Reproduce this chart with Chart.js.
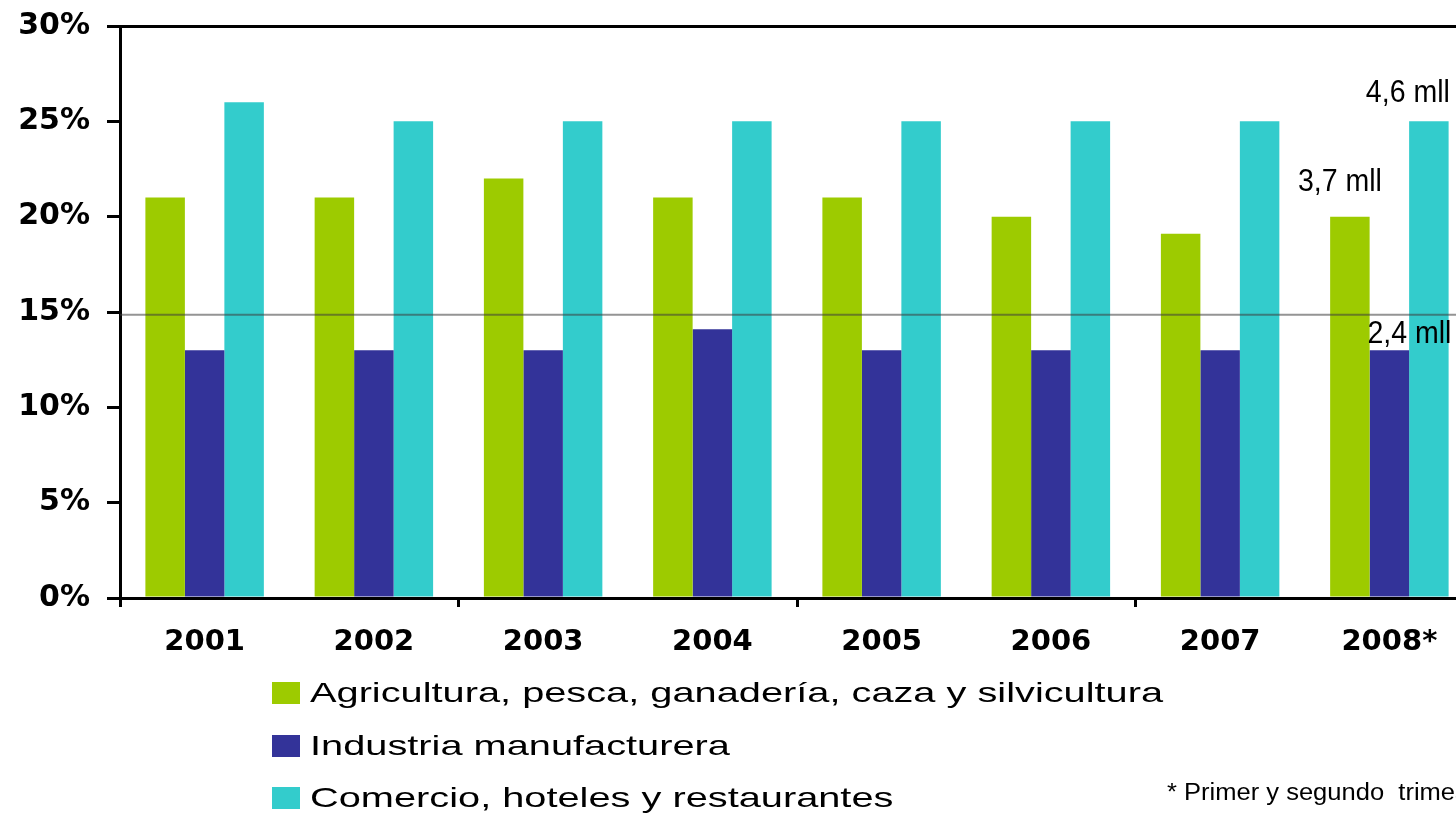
<!DOCTYPE html>
<html>
<head>
<meta charset="utf-8">
<title>Empleo por sector</title>
<script src="https://cdn.jsdelivr.net/npm/chart.js@4.4.1/dist/chart.umd.min.js"></script>
<style>
    html, body { margin: 0; padding: 0; background: #ffffff; width: 1456px; height: 814px; overflow: hidden; }
    #wrap { position: absolute; left: 0; top: -9px; width: 1480px; height: 823px; }
    #legend { position: absolute; left: 272px; top: 667px; font-family: "Liberation Sans", Arial, sans-serif; font-size: 28px; color: #000; }
    .item { display: flex; align-items: center; height: 52.5px; white-space: nowrap; }
    .box { width: 28px; height: 22px; margin-right: 10px; flex: none; }
    .txt { display: inline-block; transform: scaleX(1.42); transform-origin: left center; }
    #note { position: absolute; left: 1167px; top: 779px; font-family: "Liberation Sans", Arial, sans-serif; font-size: 23px; white-space: nowrap; transform: scaleX(1.11); transform-origin: left top; color: #000; }
</style>
</head>
<body>
<div id="wrap"><canvas id="chart"></canvas></div>
<div id="legend"></div>
<div id="note">* Primer y segundo&nbsp; trimestre</div>
<script>
const years = ['2001', '2002', '2003', '2004', '2005', '2006', '2007', '2008*'];
const agricultura = [21, 21, 22, 21, 21, 20, 19.1, 20];
const industria = [13, 13, 13, 14.1, 13, 13, 13, 13];
const comercio = [26, 25, 25, 25, 25, 25, 25, 25];
const seriesNames = [
    'Agricultura, pesca, ganadería, caza y silvicultura',
    'Industria manufacturera',
    'Comercio, hoteles y restaurantes'
];
const seriesColors = ['#9dcb00', '#333399', '#33cccc'];
const yTicks = [0, 5, 10, 15, 20, 25, 30];
const refLine = 14.85;

// millions of workers written above the 2008 bars (one per series)
const millones = ['3,7 mll', '2,4 mll', '4,6 mll'];
const millonesOffset = [[-52, -26], [-22, -7], [-63, -19]];

// horizontal reference line + the "mll" notes
const extrasPlugin = {
    id: 'extras',
    afterDatasetsDraw(chart)
    {
        const ctx = chart.ctx;
        const area = chart.chartArea;
        const y = chart.scales.y.getPixelForValue(refLine);
        ctx.save();
        ctx.strokeStyle = 'rgba(60,60,60,0.55)';
        ctx.lineWidth = 2;
        ctx.beginPath();
        ctx.moveTo(area.left, y);
        ctx.lineTo(area.right, y);
        ctx.stroke();

        ctx.fillStyle = '#000';
        ctx.font = '31px "Liberation Sans", Arial, sans-serif';
        ctx.textAlign = 'left';
        ctx.textBaseline = 'alphabetic';
        const last = years.length - 1;
        for (let i = 0; i < millones.length; i++)
        {
            const bar = chart.getDatasetMeta(i).data[last];
            ctx.save();
            ctx.translate(bar.x + millonesOffset[i][0], bar.y + millonesOffset[i][1]);
            ctx.scale(0.92, 1);
            ctx.fillText(millones[i], 0, 0);
            ctx.restore();
        }
        ctx.restore();
    }
};

new Chart(document.getElementById('chart'), {
    type: 'bar',
    data: {
        labels: years,
        datasets: [agricultura, industria, comercio].map((vals, i) => ({
            label: seriesNames[i],
            data: vals,
            backgroundColor: seriesColors[i],
            borderWidth: 0,
            barPercentage: 1.0,
            categoryPercentage: 0.7
        }))
    },
    options: {
        responsive: true,
        maintainAspectRatio: false,
        animation: false,
        layout: { padding: { top: 19, left: 0, right: 6, bottom: 0 } },
        plugins: {
            legend: { display: false },
            tooltip: { enabled: false }
        },
        scales: {
            x: {
                afterFit(scale) { scale.height = 216; },
                grid: {
                    drawOnChartArea: false,
                    drawTicks: true,
                    tickLength: 9,
                    tickWidth: 3,
                    tickColor: (c) => (c.index % 2 === 0 ? '#000' : 'rgba(0,0,0,0)')
                },
                border: { display: true, color: '#000', width: 3 },
                ticks: {
                    color: '#000',
                    padding: 18,
                    font: { family: '"DejaVu Sans", sans-serif', size: 29, weight: 'bold' }
                }
            },
            y: {
                min: 0,
                max: 30,
                afterFit(scale) { scale.width = 120; },
                afterBuildTicks(scale) { scale.ticks = yTicks.map(v => ({ value: v })); },
                grid: {
                    color: (c) => (c.tick && c.tick.value === 30 ? '#000' : 'rgba(0,0,0,0)'),
                    lineWidth: 3,
                    tickLength: 13,
                    tickWidth: 3,
                    tickColor: '#000'
                },
                border: { display: true, color: '#000', width: 3 },
                ticks: {
                    color: '#000',
                    padding: 17,
                    font: { family: '"DejaVu Sans", sans-serif', size: 30, weight: 'bold' },
                    callback: (v) => v + '%'
                }
            }
        }
    },
    plugins: [extrasPlugin]
});

const legendDiv = document.getElementById('legend');
for (let i = 0; i < seriesNames.length; i++)
{
    const row = document.createElement('div');
    row.className = 'item';
    const box = document.createElement('span');
    box.className = 'box';
    box.style.background = seriesColors[i];
    row.appendChild(box);
    const txt = document.createElement('span');
    txt.className = 'txt';
    txt.textContent = seriesNames[i];
    row.appendChild(txt);
    legendDiv.appendChild(row);
}
</script>
</body>
</html>
